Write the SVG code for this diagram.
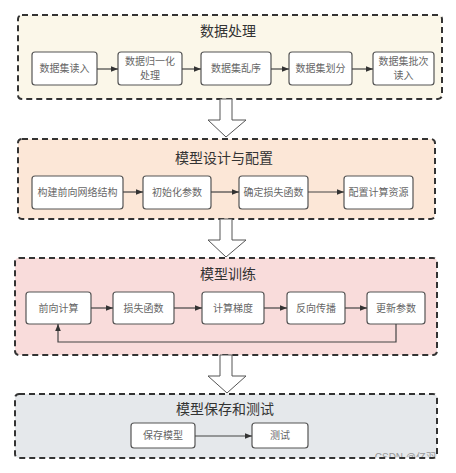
<svg xmlns="http://www.w3.org/2000/svg" width="456" height="473" viewBox="0 0 456 473">
<defs>
<style>
.grp{stroke:#333;stroke-width:2;stroke-dasharray:6 4;}
.node{fill:#fff;stroke:#555;stroke-width:1.2;}
.t{font-family:"Noto Sans CJK SC","Noto Sans",sans-serif;font-size:10px;fill:#666;text-anchor:middle;}
.title{font-family:"Noto Sans CJK SC","Noto Sans",sans-serif;font-size:14px;fill:#333;text-anchor:middle;}
.c{stroke:#444;stroke-width:1.2;fill:none;}
.big{fill:#fff;stroke:#555;stroke-width:1;}
</style>
<marker id="ah" viewBox="0 0 10 10" refX="10" refY="5" markerWidth="7" markerHeight="7" markerUnits="userSpaceOnUse" orient="auto">
<path d="M0,1 L10,5 L0,9 z" fill="#333"/>
</marker>
<clipPath id="wm"><rect x="0" y="0" width="456" height="457"/></clipPath>
</defs>
<rect width="456" height="473" fill="#fff"/>

<g id="g1">
<rect class="grp" x="18" y="15" width="424" height="84" rx="4" fill="#fbf7e9"/>
<text class="title" x="228" y="36">数据处理</text>
</g>
<g id="n1"><rect class="node" x="32" y="52" width="65" height="33" rx="3"/><text class="t" x="64.5" y="72">数据集读入</text></g>
<g id="n2"><rect class="node" x="118" y="52" width="64" height="33" rx="3"/><text class="t" x="150" y="65">数据归一化</text><text class="t" x="150" y="79">处理</text></g>
<g id="n3"><rect class="node" x="201" y="52" width="70" height="33" rx="3"/><text class="t" x="236" y="72">数据集乱序</text></g>
<g id="n4"><rect class="node" x="289" y="52" width="63" height="33" rx="3"/><text class="t" x="320.5" y="72">数据集划分</text></g>
<g id="n5"><rect class="node" x="373" y="52" width="61" height="33" rx="3"/><text class="t" x="403.5" y="65">数据集批次</text><text class="t" x="403.5" y="79">读入</text></g>

<g id="g2">
<rect class="grp" x="18" y="139" width="417" height="80" rx="4" fill="#fce7d7"/>
<text class="title" x="224" y="163">模型设计与配置</text>
</g>
<g id="n6"><rect class="node" x="32" y="176" width="91" height="33" rx="3"/><text class="t" x="77.5" y="196">构建前向网络结构</text></g>
<g id="n7"><rect class="node" x="143" y="176" width="68" height="33" rx="3"/><text class="t" x="177" y="196">初始化参数</text></g>
<g id="n8"><rect class="node" x="239" y="176" width="69" height="33" rx="3"/><text class="t" x="273.5" y="196">确定损失函数</text></g>
<g id="n9"><rect class="node" x="344" y="176" width="69" height="33" rx="3"/><text class="t" x="378.5" y="196">配置计算资源</text></g>

<g id="g3">
<rect class="grp" x="15" y="258" width="422" height="97" rx="4" fill="#f9dcdb"/>
<text class="title" x="228" y="279">模型训练</text>
</g>
<g id="n10"><rect class="node" x="26" y="292" width="65" height="32" rx="3"/><text class="t" x="58.5" y="312">前向计算</text></g>
<g id="n11"><rect class="node" x="113" y="292" width="61" height="32" rx="3"/><text class="t" x="143.5" y="312">损失函数</text></g>
<g id="n12"><rect class="node" x="202" y="292" width="62" height="32" rx="3"/><text class="t" x="233" y="312">计算梯度</text></g>
<g id="n13"><rect class="node" x="287" y="292" width="58" height="32" rx="3"/><text class="t" x="316" y="312">反向传播</text></g>
<g id="n14"><rect class="node" x="367" y="292" width="58" height="32" rx="3"/><text class="t" x="396" y="312">更新参数</text></g>

<g id="g4">
<rect class="grp" x="15" y="394" width="422" height="64" rx="4" fill="#e5e8eb"/>
<text class="title" x="225" y="414">模型保存和测试</text>
</g>
<g id="n15"><rect class="node" x="131" y="423" width="64" height="25" rx="3"/><text class="t" x="163" y="439">保存模型</text></g>
<g id="n16"><rect class="node" x="252" y="423" width="56" height="25" rx="3"/><text class="t" x="280" y="439">测试</text></g>

<g id="connectors">
<line class="c" x1="97" y1="69" x2="118" y2="69" marker-end="url(#ah)"/>
<line class="c" x1="182" y1="69" x2="201" y2="69" marker-end="url(#ah)"/>
<line class="c" x1="271" y1="69" x2="289" y2="69" marker-end="url(#ah)"/>
<line class="c" x1="352" y1="69" x2="373" y2="69" marker-end="url(#ah)"/>
<line class="c" x1="123" y1="192" x2="143" y2="192" marker-end="url(#ah)"/>
<line class="c" x1="211" y1="192" x2="239" y2="192" marker-end="url(#ah)"/>
<line class="c" x1="308" y1="192" x2="344" y2="192" marker-end="url(#ah)"/>
<line class="c" x1="91" y1="308" x2="113" y2="308" marker-end="url(#ah)"/>
<line class="c" x1="174" y1="308" x2="202" y2="308" marker-end="url(#ah)"/>
<line class="c" x1="264" y1="308" x2="287" y2="308" marker-end="url(#ah)"/>
<line class="c" x1="345" y1="308" x2="367" y2="308" marker-end="url(#ah)"/>
<polyline class="c" points="396,324 396,342 58,342 58,324" marker-end="url(#ah)"/>
<line class="c" x1="195" y1="436" x2="252" y2="436" marker-end="url(#ah)"/>
<path class="big" d="M220,99 L232,99 L232,120 L246,120 L226,137 L208,120 L220,120 Z"/>
<path class="big" d="M220,219 L232,219 L232,240 L246,240 L226,257 L208,240 L220,240 Z"/>
<path class="big" d="M220,355 L232,355 L232,376 L246,376 L227,393 L208,376 L220,376 Z"/>
</g>

<g clip-path="url(#wm)">
<text x="436" y="461" font-family="'Liberation Sans','Noto Sans CJK SC',sans-serif" font-size="10" fill="#999" text-anchor="end">CSDN @亿羽</text>
</g>
</svg>
